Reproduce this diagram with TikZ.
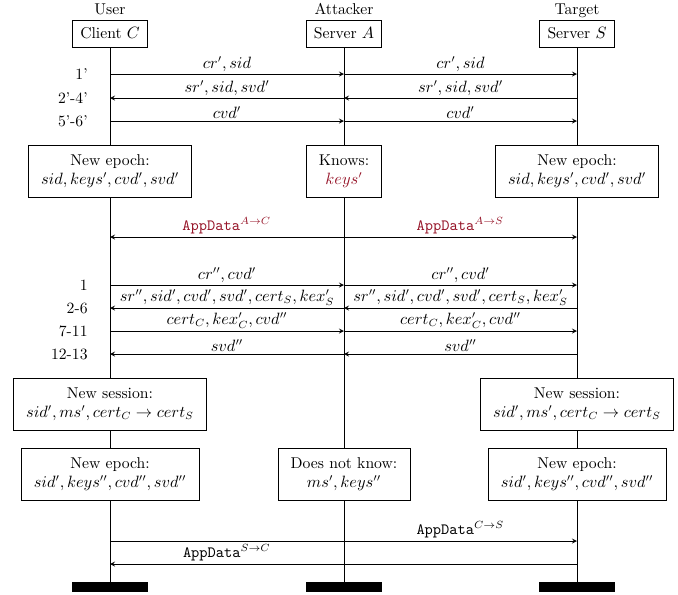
\documentclass[tikz,border=0pt]{standalone}
\usepackage{amsmath, amssymb}
\usepackage{tikz}
\usetikzlibrary{arrows.meta, positioning}
\definecolor{attk}{RGB}{150,20,40}

\begin{document}
\begin{tikzpicture}[
    x=0.02353cm, y=-0.02353cm,
    font=\fontsize{10.5}{12.6}\selectfont,
    line width=0.5pt,
    party/.style={rectangle, draw, minimum width=1.77cm, minimum height=0.64cm},
    role/.style={text depth=2pt},
    box/.style={rectangle, draw, fill=white, minimum height=1.22cm, inner xsep=8.5pt, align=center},
    endbar/.style={rectangle, fill=black, minimum width=1.8cm, minimum height=0.24cm, inner sep=0pt},
    msg/.style={->, >=stealth},
    lbl/.style={above, inner sep=1.5pt},
    steplbl/.style={anchor=east}
]
    \useasboundingbox (0,0) rectangle (678,594);

    % Teilnehmer
    \node[party] (client) at (110,33.5) {Client $C$};
    \node[party] (srvA) at (344,33.5) {Server $A$};
    \node[party] (srvS) at (577,33.5) {Server $S$};
    \node[role, above=-2pt of client] (user) {User};
    \node[role, above=-2pt of srvA] (attacker) {Attacker};
    \node[role, above=-2pt of srvS] (target) {Target};

    % Zustaende
    \node[box] (epC1) at (110,171) {New epoch:\\$sid, keys', cvd', svd'$};
    \node[box] (knows) at (344,171) {Knows:\\\textcolor{attk}{$keys'$}};
    \node[box] (epS1) at (577,171) {New epoch:\\$sid, keys', cvd', svd'$};
    \node[box] (sesC) at (110,404) {New session:\\$sid', ms', cert_C \rightarrow cert_S$};
    \node[box] (sesS) at (577,404) {New session:\\$sid', ms', cert_C \rightarrow cert_S$};
    \node[box] (epC2) at (110,474) {New epoch:\\$sid', keys'', cvd'', svd''$};
    \node[box] (dnk) at (344,474) {Does not know:\\$ms', keys''$};
    \node[box] (epS2) at (577,474) {New epoch:\\$sid', keys'', cvd'', svd''$};

    % Enden
    \node[endbar] (endC) at (110,587) {};
    \node[endbar] (endA) at (344,587) {};
    \node[endbar] (endS) at (577,587) {};

    % Lebenslinien
    \draw (client) -- (epC1) -- (sesC) -- (epC2) -- (endC);
    \draw (srvA) -- (knows) -- (dnk) -- (endA);
    \draw (srvS) -- (epS1) -- (sesS) -- (epS2) -- (endS);

    % Hilfspunkte
    \foreach \n/\y in {r1/74, r2/98, r3/121, ad/237, h1/285, h2/308, h3/331, h4/354, d1/541, d2/564} {
        \coordinate (C\n) at (110,\y);
        \coordinate (A\n) at (344,\y);
        \coordinate (S\n) at (577,\y);
    }

    % Erster Handshake
    \node[steplbl] (st1) at (93,74) {1'};
    \node[steplbl] (st2) at (93,98) {2'-4'};
    \node[steplbl] (st3) at (93,121) {5'-6'};
    \draw[msg] (Cr1) -- node[lbl] {$cr', sid$} (Ar1);
    \draw[msg] (Ar1) -- node[lbl] {$cr', sid$} (Sr1);
    \draw[msg] (Ar2) -- node[lbl] {$sr', sid, svd'$} (Cr2);
    \draw[msg] (Sr2) -- node[lbl] {$sr', sid, svd'$} (Ar2);
    \draw[msg] (Cr3) -- node[lbl] {$cvd'$} (Ar3);
    \draw[msg] (Ar3) -- node[lbl] {$cvd'$} (Sr3);

    % Anwendungsdaten
    \draw[msg, <->] (Cad) -- node[lbl, pos=0.25] {\textcolor{attk}{\texttt{AppData}$^{A\rightarrow C}$}}
        node[lbl, pos=0.75] {\textcolor{attk}{\texttt{AppData}$^{A\rightarrow S}$}} (Sad);

    % Zweiter Handshake
    \node[steplbl] (st4) at (93,285) {1};
    \node[steplbl] (st5) at (93,308) {2-6};
    \node[steplbl] (st6) at (93,331) {7-11};
    \node[steplbl] (st7) at (93,354) {12-13};
    \draw[msg] (Ch1) -- node[lbl] {$cr'', cvd'$} (Ah1);
    \draw[msg] (Ah1) -- node[lbl] {$cr'', cvd'$} (Sh1);
    \draw[msg] (Ah2) -- node[lbl] {$sr'', sid', cvd', svd', cert_S, kex'_S$} (Ch2);
    \draw[msg] (Sh2) -- node[lbl] {$sr'', sid', cvd', svd', cert_S, kex'_S$} (Ah2);
    \draw[msg] (Ch3) -- node[lbl] {$cert_C, kex'_C, cvd''$} (Ah3);
    \draw[msg] (Ah3) -- node[lbl] {$cert_C, kex'_C, cvd''$} (Sh3);
    \draw[msg] (Ah4) -- node[lbl] {$svd''$} (Ch4);
    \draw[msg] (Sh4) -- node[lbl] {$svd''$} (Ah4);

    % Direkte Daten
    \draw[msg] (Cd1) -- node[lbl, pos=0.75] {\texttt{AppData}$^{C\rightarrow S}$} (Sd1);
    \draw[msg] (Sd2) -- node[lbl, pos=0.75] {\texttt{AppData}$^{S\rightarrow C}$} (Cd2);
\end{tikzpicture}
\end{document}
